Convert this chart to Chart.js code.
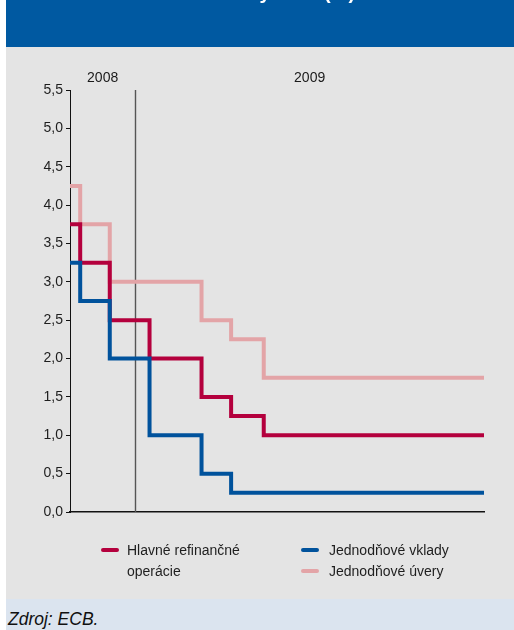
<!DOCTYPE html>
<html lang="sk">
<head>
<meta charset="utf-8">
<title>Kľúčové úrokové sadzby ECB</title>
<script src="https://cdn.jsdelivr.net/npm/chart.js@4/dist/chart.umd.min.js"></script>
<style>
  html, body { margin: 0; padding: 0; background: #ffffff; }
  #page { position: relative; width: 514px; height: 630px; overflow: hidden; font-family: "Liberation Sans", Arial, sans-serif; }
  #head { position: absolute; left: 6px; top: 0; width: 508px; height: 47px; background: #0059a1; }
  #panel { position: absolute; left: 6px; top: 47px; width: 508px; height: 552px; background: #e4e4e4; }
  #foot { position: absolute; left: 6px; top: 599px; width: 508px; height: 31px; background: #dbe4ef; }
  #src { position: absolute; left: 8px; top: 609px; font-style: italic; font-size: 17.5px; color: #111; line-height: 20px; }
  #chart { position: absolute; left: 0; top: 0; }
  .lg { position: absolute; font-size: 14px; line-height: 21px; color: #1e1e1e; }
  .sw { position: absolute; width: 18px; height: 4px; border-radius: 2px; }
</style>
</head>
<body>
<div id="page">
  <div id="head"></div>
  <div id="panel"></div>
  <div id="foot"></div>
  <div id="src">Zdroj: ECB.</div>
  <canvas id="chart" width="514" height="630"></canvas>
  <div class="sw" id="sw0" style="left:101px; top:548px;"></div>
  <div class="lg" id="lg0" style="left:127px; top:540px;"></div>
  <div class="sw" id="sw1" style="left:301px; top:548px;"></div>
  <div class="lg" id="lg1" style="left:329px; top:540px;"></div>
  <div class="sw" id="sw2" style="left:301px; top:569px;"></div>
  <div class="lg" id="lg2" style="left:329px; top:561px;"></div>
</div>
<script>
// Dates on which the rates changed (last entry = end of the period shown)
const changeDates = ['2008-10-29', '2008-11-08', '2008-12-07', '2009-01-15', '2009-03-07', '2009-04-05', '2009-05-07', '2009-12-09'];

// Rates in % valid from each date above
const mainRefi = [3.75, 3.25, 2.50, 2.00, 1.50, 1.25, 1.00, 1.00];
const deposit  = [3.25, 2.75, 2.00, 1.00, 0.50, 0.25, 0.25, 0.25];
const lending  = [4.25, 3.75, 3.00, 3.00, 2.50, 2.25, 1.75, 1.75];

const seriesNames = ['Hlavné refinančné operácie', 'Jednodňové vklady', 'Jednodňové úvery'];
const yearLabels = ['2008', '2009'];
const yearStart = '2009-01-01';
const yTicks = [0, 0.5, 1, 1.5, 2, 2.5, 3, 3.5, 4, 4.5, 5, 5.5];

const colRefi = '#b4003d';
const colDep = '#00529c';
const colLend = '#e3a4a7';

// days relative to 1 January 2009
const DAY = 86400000;
const base = Date.parse(yearStart);
const dayOf = s => (Date.parse(s) - base) / DAY;
const xs = changeDates.map(dayOf);
const pts = arr => arr.map((v, i) => ({ x: xs[i], y: v }));

// legend (HTML)
document.getElementById('lg0').innerHTML = 'Hlavné refinančné<br>operácie';
document.getElementById('lg1').textContent = seriesNames[1];
document.getElementById('lg2').textContent = seriesNames[2];
document.getElementById('sw0').style.background = colRefi;
document.getElementById('sw1').style.background = colDep;
document.getElementById('sw2').style.background = colLend;

const decor = {
  id: 'decor',
  beforeDatasetsDraw(chart) {
    const { ctx, chartArea, scales } = chart;
    const x = scales.x;
    const xYear = Math.round(x.getPixelForValue(0)) + 0.5;
    ctx.save();
    ctx.strokeStyle = '#555555';
    ctx.lineWidth = 1.4;
    ctx.beginPath();
    ctx.moveTo(xYear, chartArea.top);
    ctx.lineTo(xYear, chartArea.bottom);
    ctx.stroke();
    ctx.restore();
  },
  afterDraw(chart) {
    const { ctx, chartArea, scales } = chart;
    const x = scales.x;
    const xYear = x.getPixelForValue(0);
    ctx.save();
    ctx.fillStyle = '#1a1a1a';
    ctx.font = '14px "Liberation Sans", Arial, sans-serif';
    ctx.textAlign = 'center';
    ctx.textBaseline = 'middle';
    ctx.fillText(yearLabels[0], (chartArea.left + xYear) / 2, 78);
    ctx.fillText(yearLabels[1], (xYear + chartArea.right) / 2, 78);
    // heading, cut by the top of the page
    ctx.fillStyle = '#ffffff';
    ctx.font = 'bold 20px "Liberation Sans", Arial, sans-serif';
    ctx.textAlign = 'left';
    ctx.textBaseline = 'alphabetic';
    ctx.fillText('Kľúčové úrokové sadzby ECB (%)', 34, -1.5);
    ctx.restore();
  }
};

const lineDs = (label, data, color) => ({
  label,
  data: pts(data),
  borderColor: color,
  backgroundColor: color,
  borderWidth: 4,
  stepped: 'before',
  pointRadius: 0,
  borderCapStyle: 'square',
  borderJoinStyle: 'miter',
  fill: false
});

new Chart(document.getElementById('chart'), {
  type: 'line',
  data: {
    datasets: [
      lineDs(seriesNames[1], deposit, colDep),
      lineDs(seriesNames[0], mainRefi, colRefi),
      lineDs(seriesNames[2], lending, colLend)
    ]
  },
  options: {
    responsive: false,
    animation: false,
    devicePixelRatio: 1,
    layout: { padding: { left: 0, top: 90, right: 30, bottom: 118 } },
    plugins: { legend: { display: false }, tooltip: { enabled: false }, title: { display: false } },
    scales: {
      x: {
        type: 'linear',
        min: xs[0],
        max: xs[xs.length - 1],
        ticks: { display: false },
        grid: { display: false, drawTicks: false },
        border: { display: true, color: '#111111', width: 1.5 },
        afterFit(s) { s.height = 0; }
      },
      y: {
        min: 0,
        max: 5.5,
        afterBuildTicks(s) { s.ticks = yTicks.map(v => ({ value: v })); },
        ticks: {
          color: '#1e1e1e',
          padding: 3,
          font: { family: '"Liberation Sans", Arial, sans-serif', size: 14 },
          callback: v => v.toFixed(1).replace('.', ',')
        },
        grid: { drawOnChartArea: false, drawTicks: true, tickLength: 4, color: '#111111', lineWidth: 1 },
        border: { display: true, color: '#111111', width: 1 },
        afterFit(s) { s.width = 70; }
      }
    }
  },
  plugins: [decor]
});
</script>
</body>
</html>
